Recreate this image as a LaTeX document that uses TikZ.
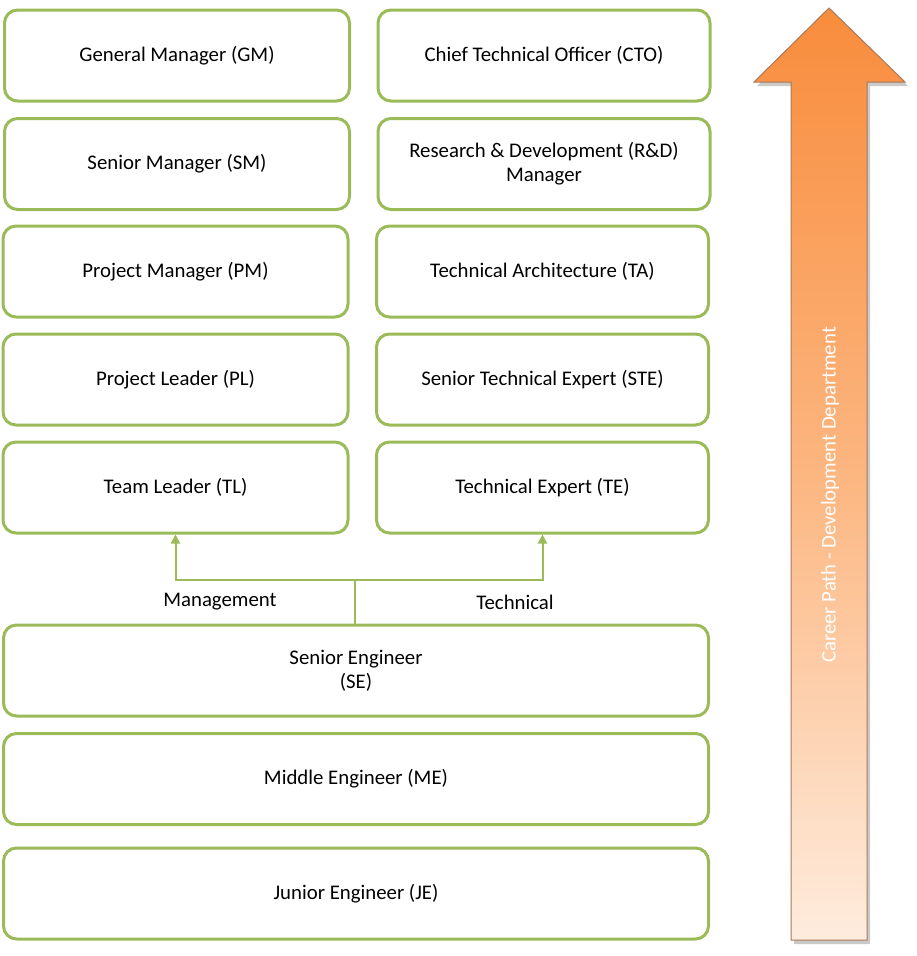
\documentclass[tikz,border=0pt]{standalone}
\usepackage{fontspec}
\setmainfont{Carlito}
\usetikzlibrary{arrows.meta,shadows}
\definecolor{boxgreen}{RGB}{155,187,89}
\definecolor{arrtop}{RGB}{248,140,60}
\definecolor{arrmid}{RGB}{252,182,128}
\definecolor{arrbot}{RGB}{254,236,222}
\definecolor{arredge}{RGB}{170,120,90}
\begin{document}
\begin{tikzpicture}[x=1pt,y=-1pt,
  rolebox/.style={draw=boxgreen,line width=3pt,rounded corners=13pt,fill=white,
    minimum height=91pt,align=center,font=\fontsize{20.8}{25}\selectfont,inner sep=2pt},
  leftbox/.style={rolebox,minimum width=345pt},
  rightbox/.style={rolebox,minimum width=332pt},
  widebox/.style={rolebox,minimum width=705pt},
  conn/.style={draw=boxgreen,line width=2pt},
  lbl/.style={font=\fontsize{20.8}{25}\selectfont,inner sep=0pt}]
\useasboundingbox (0,0) rectangle (917,956);
% left column
\node[leftbox] (GM) at (177,55.5) {General Manager (GM)};
\node[leftbox] (SM) at (177,164) {Senior Manager (SM)};
\node[leftbox] (PM) at (175.5,271.5) {Project Manager (PM)};
\node[leftbox] (PL) at (175.5,379.5) {Project Leader (PL)};
\node[leftbox] (TL) at (175.5,487.5) {Team Leader (TL)};
% right column
\node[rightbox] (CTO) at (544,55.5) {Chief Technical Officer (CTO)};
\node[rightbox] (RD) at (544,164) {Research \& Development (R\&D)\\[-1pt]Manager};
\node[rightbox] (TA) at (542.5,271.5) {Technical Architecture (TA)};
\node[rightbox] (STE) at (542.5,379.5) {Senior Technical Expert (STE)};
\node[rightbox] (TE) at (542.5,487.5) {Technical Expert (TE)};
% bottom rows
\node[widebox] (SE) at (356,670.5) {Senior Engineer\\[-1pt](SE)};
\node[widebox] (ME) at (356,779) {Middle Engineer (ME)};
\node[widebox] (JE) at (356,893.5) {Junior Engineer (JE)};
% connectors
\coordinate (split) at (355,580);
\draw[conn] (SE.north -| split) -- (split);
\draw[conn,-{Triangle[width=9pt,length=9pt]}] (split) -| (TL.south);
\draw[conn,-{Triangle[width=9pt,length=9pt]}] (split) -| (TE.south);
\node[lbl] (mgmt) at (220,602) {Management};
\node[lbl] (tech) at (515,602) {Technical};
% career arrow
\path[drop shadow={shadow xshift=3pt,shadow yshift=-4pt,opacity=0.35,fill=black!60},
  top color=arrtop,bottom color=arrbot,middle color=arrmid,draw=arredge,line width=1pt]
  (791,940) -- (791,82) -- (754,82) -- (829,8) -- (905,82) -- (867,82) -- (867,940) -- cycle;
\node[lbl,text=white,rotate=90] (career) at (830,495) {Career Path - Development Department};
\end{tikzpicture}
\end{document}
